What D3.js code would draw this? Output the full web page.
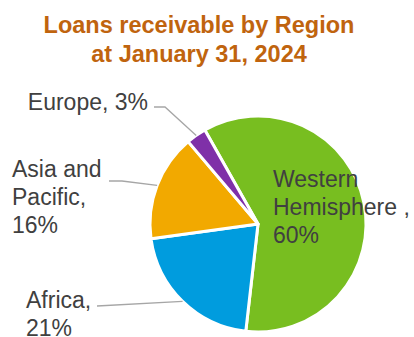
<!DOCTYPE html>
<html>
<head>
<meta charset="utf-8">
<script src="https://cdn.jsdelivr.net/npm/d3@7"></script>
<style>
  html, body { margin: 0; padding: 0; background: #fff; }
  svg { display: block; }
</style>
</head>
<body>
<svg id="chart" width="414" height="337"></svg>
<script>
// Loans receivable by region, share of total
const regions = ["Western Hemisphere", "Africa", "Asia and Pacific", "Europe"];
const shares = [60, 21, 16, 3];
const sliceColors = ["#78BE20", "#009CDE", "#F2A900", "#7F30A8"];
const titleLines = ["Loans receivable by Region", "at January 31, 2024"];

// Label text lines for each region
const labelLines = [
  ["Western", "Hemisphere ,", "60%"],
  ["Africa,", "21%"],
  ["Asia and", "Pacific,", "16%"],
  ["Europe, 3%"]
];

const W = 414, H = 337;
const cx = 258, cy = 224, R = 108;
const deg = Math.PI / 180;
const start = -29.5 * deg;

const svg = d3.select("#chart");

// Title
svg.append("g")
  .selectAll("text")
  .data(titleLines)
  .join("text")
  .attr("x", 199)
  .attr("y", (d, i) => 33 + i * 29)
  .attr("text-anchor", "middle")
  .attr("font-family", "Liberation Sans, Arial, sans-serif")
  .attr("font-weight", "bold")
  .attr("font-size", 23.5)
  .attr("fill", "#C0640E")
  .text(d => d);

const pie = d3.pie()
  .sort(null)
  .startAngle(start)
  .endAngle(start + 2 * Math.PI)
  .value(d => d);

const arcs = pie(shares);
const arc = d3.arc().innerRadius(0).outerRadius(R);

const g = svg.append("g").attr("transform", `translate(${cx},${cy})`);

g.selectAll("path")
  .data(arcs)
  .join("path")
  .attr("d", arc)
  .attr("fill", (d, i) => sliceColors[i])
  .attr("stroke", "#fff")
  .attr("stroke-width", 3)
  .attr("stroke-linejoin", "round");

// Point on the rim at a slice's middle angle
function rimPoint(d) {
  const a = (d.startAngle + d.endAngle) / 2;
  return [cx + R * Math.sin(a), cy - R * Math.cos(a)];
}

// Label placement: anchor x, first baseline, and leader-line start (null if inside)
const labelPos = [
  { x: 273, y: 187, anchor: "start", leader: null },
  { x: 26, y: 308, anchor: "start", leader: [[97, 306]] },
  { x: 12, y: 177, anchor: "start", leader: [[109, 181], [122, 181]] },
  { x: 148, y: 110, anchor: "end", leader: [[154, 107], [165, 107]] }
];

const lineH = 27.8;

arcs.forEach((d, i) => {
  const p = labelPos[i];
  if (p.leader) {
    const pts = p.leader.concat([rimPoint(d)]);
    svg.append("path")
      .attr("d", d3.line()(pts))
      .attr("fill", "none")
      .attr("stroke", "#A6A6A6")
      .attr("stroke-width", 1.3);
  }
  const t = svg.append("text")
    .attr("font-family", "Liberation Sans, Arial, sans-serif")
    .attr("font-size", 23)
    .attr("fill", "#404040")
    .attr("text-anchor", p.anchor);
  labelLines[i].forEach((line, j) => {
    t.append("tspan")
      .attr("x", p.x)
      .attr("y", p.y + j * lineH)
      .text(line);
  });
});
</script>
</body>
</html>
